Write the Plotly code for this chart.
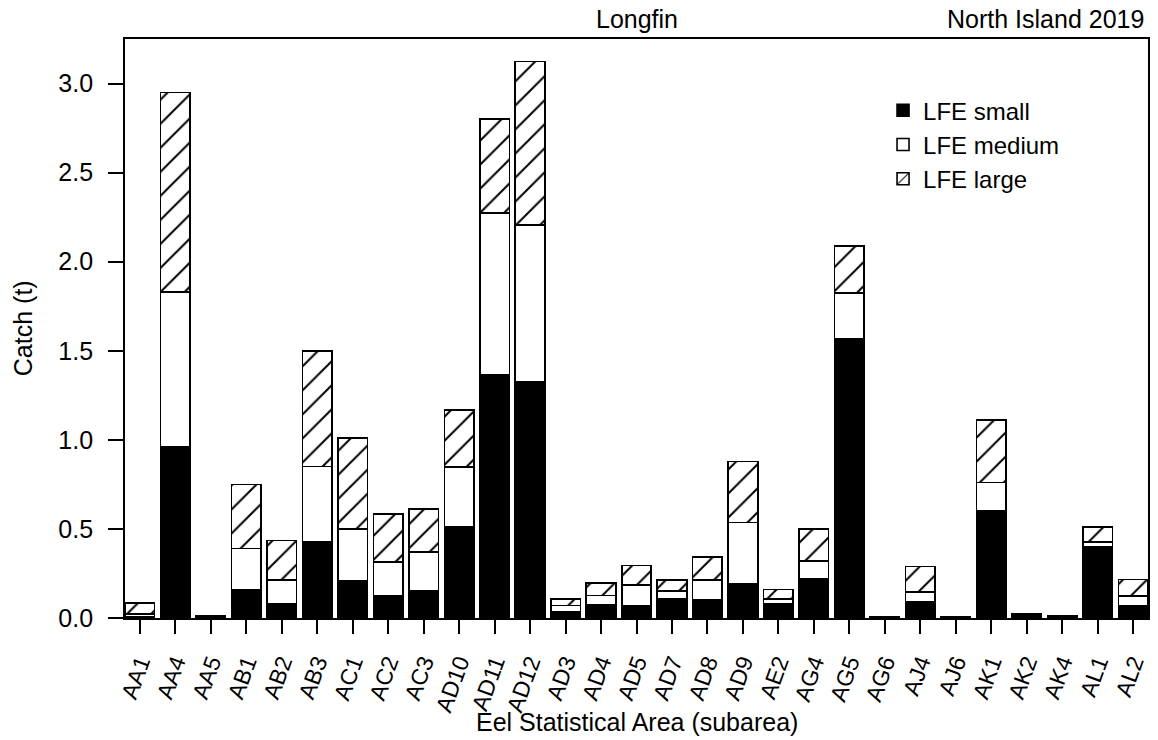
import plotly.graph_objects as go

categories = ["AA1", "AA4", "AA5", "AB1", "AB2", "AB3", "AC1", "AC2", "AC3", "AD10",
              "AD11", "AD12", "AD3", "AD4", "AD5", "AD7", "AD8", "AD9", "AE2", "AG4",
              "AG5", "AG6", "AJ4", "AJ6", "AK1", "AK2", "AK4", "AL1", "AL2"]

lfe_small = [0.008, 0.96, 0.012, 0.16, 0.08, 0.43, 0.21, 0.125, 0.152, 0.513,
             1.365, 1.327, 0.037, 0.076, 0.07, 0.108, 0.10, 0.192, 0.08, 0.22,
             1.568, 0.008, 0.089, 0.008, 0.604, 0.025, 0.005, 0.398, 0.07]

lfe_medium = [0.014, 0.87, 0.0, 0.23, 0.135, 0.42, 0.29, 0.19, 0.22, 0.335,
              0.908, 0.878, 0.033, 0.05, 0.116, 0.043, 0.114, 0.345, 0.026, 0.10,
              0.255, 0.0, 0.056, 0.0, 0.157, 0.0, 0.004, 0.028, 0.052]

lfe_large = [0.063, 1.12, 0.0, 0.36, 0.22, 0.65, 0.51, 0.27, 0.24, 0.32,
             0.527, 0.919, 0.038, 0.072, 0.109, 0.063, 0.128, 0.342, 0.054, 0.18,
             0.266, 0.0, 0.144, 0.0, 0.349, 0.0, 0.005, 0.084, 0.094]

series_names = ["LFE small", "LFE medium", "LFE large"]

FONT = "Liberation Sans, Arial, sans-serif"
line = dict(color="black", width=1.6)

fig = go.Figure()
fig.add_trace(go.Bar(x=categories, y=lfe_small, name=series_names[0],
                     marker=dict(color="black", line=line)))
fig.add_trace(go.Bar(x=categories, y=lfe_medium, name=series_names[1],
                     marker=dict(color="white", line=line)))
fig.add_trace(go.Bar(x=categories, y=lfe_large, name=series_names[2],
                     marker=dict(color="white", line=line,
                                 pattern=dict(shape="/", fgcolor="#000000", fgopacity=1,
                                              bgcolor="white", size=17, solidity=0.12))))

fig.update_layout(
    barmode="stack",
    bargap=0.167,
    width=1158, height=740,
    margin=dict(l=125, r=8, t=39, b=122),
    paper_bgcolor="white", plot_bgcolor="white",
    font=dict(family=FONT, size=25, color="black"),
    showlegend=True,
    legend=dict(x=0.741, y=0.915, xanchor="left", yanchor="top",
                traceorder="normal", bgcolor="rgba(0,0,0,0)",
                font=dict(size=24), itemwidth=30, tracegroupgap=0),
    xaxis=dict(range=[-0.4167, 28.4167], showline=True, linecolor="black", linewidth=1.8,
               mirror=True, ticks="outside", ticklen=14, tickwidth=1.5, tickcolor="black",
               tickangle=-70, tickfont=dict(size=23), showgrid=False, zeroline=False,
               ticklabelstandoff=6),
    yaxis=dict(range=[0, 3.25], showline=True, linecolor="black", linewidth=1.8,
               mirror=True, ticks="outside", ticklen=15, tickwidth=1.5, tickcolor="black",
               dtick=0.5, tick0=0, tickformat=".1f", showgrid=False, zeroline=False,
               tickfont=dict(size=25), ticklabelstandoff=10),
    annotations=[
        dict(text="Longfin", x=0.5, y=1.034, xref="paper", yref="paper",
             xanchor="center", yanchor="middle", showarrow=False, font=dict(size=25)),
        dict(text="North Island 2019", x=0.998, y=1.034, xref="paper", yref="paper",
             xanchor="right", yanchor="middle", showarrow=False, font=dict(size=25)),
        dict(text="Catch (t)", x=-0.1, y=0.5, xref="paper", yref="paper", textangle=-90,
             xanchor="center", yanchor="middle", showarrow=False, font=dict(size=25)),
        dict(text="Eel Statistical Area (subarea)", x=0.5, y=-0.18, xref="paper",
             yref="paper", xanchor="center", yanchor="middle", showarrow=False,
             font=dict(size=25)),
    ],
)

fig.write_html("out.html", config={"displayModeBar": False},
               post_script="document.body.style.margin='0';document.body.style.padding='0';")
